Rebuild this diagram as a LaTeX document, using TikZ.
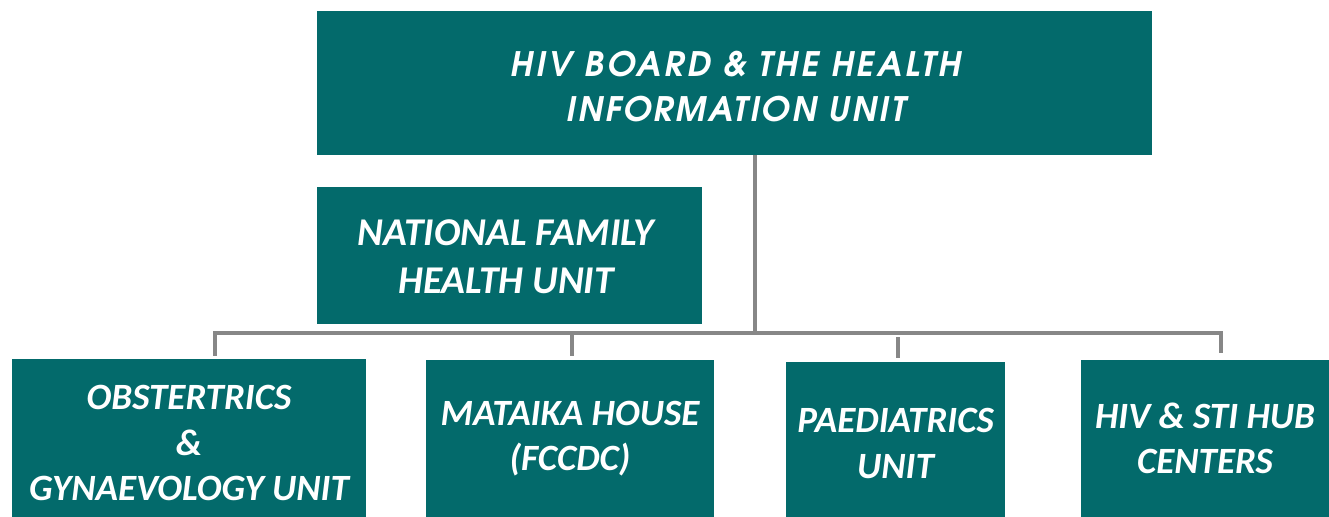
\documentclass[tikz,border=0pt]{standalone}
\usepackage{fontspec}
\setmainfont{Carlito}
\newfontfamily\topfontA[LetterSpace=8.5]{TeX Gyre Adventor}
\newfontfamily\topfontB[LetterSpace=6.5]{TeX Gyre Adventor}
\usetikzlibrary{calc}
\definecolor{teal}{HTML}{036A6B}
\definecolor{conngrey}{HTML}{878787}
\newdimen\px
\px=0.75pt
\begin{document}
\begin{tikzpicture}[x=0.75pt,y=-0.75pt,
  box/.style={fill=teal,draw=none,inner sep=0pt,text=white,align=center,
    font=\fontsize{27.8}{34}\selectfont\bfseries\itshape},
  txt/.style={inner sep=0pt,text=white,align=center},
  conn/.style={draw=conngrey,line width=2.4pt}]
\useasboundingbox (0,0) rectangle (1329,517);
\fill[white] (0,0) rectangle (1329,517);
\node[box,minimum width=835\px,minimum height=144\px] (top) at (734.5,83) {};
\node[txt,font=\fontsize{25.3}{33.75}\selectfont\bfseries\itshape] (toptxt) at (736,87)
  {{\topfontA\bfseries\itshape HIV BOARD \& THE HEALTH}\\{\topfontB\bfseries\itshape INFORMATION UNIT}};
\node[box,minimum width=385\px,minimum height=137\px] (nfhu) at (509.5,255.5) {};
\node[txt,font=\fontsize{29.5}{36}\selectfont\bfseries\itshape] (nfhutxt) at (506,256.5)
  {NATIONAL FAMILY\\HEALTH UNIT};
\node[box,minimum width=354\px,minimum height=168\px] (b1) at (189,443)
  {OBSTERTRICS\\\&\\GYNAEVOLOGY UNIT};
\node[box,minimum width=288\px,minimum height=157\px] (b2) at (570,438.5)
  {MATAIKA HOUSE\\(FCCDC)};
\node[box,minimum width=219\px,minimum height=163\px] (b3) at (895.5,443.5)
  {PAEDIATRICS\\UNIT};
\node[box,minimum width=248\px,minimum height=157\px] (b4) at (1205,438.5)
  {HIV \& STI HUB\\CENTERS};
\coordinate (j) at (755,333);
\coordinate (d1) at (215,333);
\coordinate (d2) at (572,333);
\coordinate (d3) at (898,333);
\coordinate (d4) at (1221,333);
\draw[conn] (top.south -| j) -- (j);
\draw[conn] ($(d1 |- b1.north)+(0,-3)$) -- (d1) -- (d4) -- ($(d4 |- b4.north)+(0,-7)$);
\draw[conn] (d2) -- ($(d2 |- b2.north)+(0,-4)$);
\draw[conn] ($(d3)+(0,4)$) -- ($(d3 |- b3.north)+(0,-4)$);
\end{tikzpicture}
\end{document}
